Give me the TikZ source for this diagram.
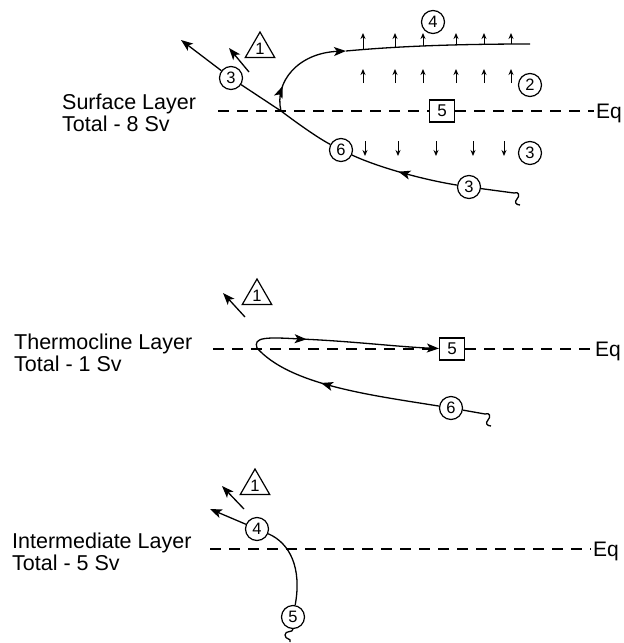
\documentclass[tikz,border=0pt]{standalone}
\usepackage{fontspec}
\setmainfont{Liberation Sans}
\usetikzlibrary{shapes.geometric,arrows.meta,decorations.markings}

\tikzset{
  flow/.style={line width=1.3pt},
  num/.style={circle,draw,line width=1.2pt,fill=white,inner sep=0pt,minimum size=23pt,font=\fontsize{16.5}{16.5}\selectfont},
  tri/.style={regular polygon,regular polygon sides=3,draw,line width=1.2pt,inner sep=0pt,minimum size=34pt,font=\fontsize{16.5}{16.5}\selectfont},
  sq/.style={rectangle,draw,line width=1.2pt,fill=white,inner sep=0pt,minimum width=25pt,minimum height=22pt,font=\fontsize{17}{17}\selectfont},
  eqline/.style={dash pattern=on 11pt off 8pt,line width=1.8pt},
  eqlabel/.style={anchor=base west,inner sep=2pt,font=\fontsize{21}{22}\selectfont},
  layer/.style={align=left,anchor=north west,inner sep=0pt,font=\fontsize{21.5}{22}\selectfont},
  flux/.style={-{Stealth[length=6pt,width=5pt]},line width=1pt},
  flowarrow/.style={postaction={decorate},decoration={markings,mark=at position #1 with {\arrow{Stealth[length=12pt,width=9pt,inset=3pt]}}}},
  wiggle/.pic={\draw[flow] (0,0) .. controls (5,-2) and (6,3) .. (3,6) .. controls (0,9) and (2,12) .. (6,12);}
}

\begin{document}
\begin{tikzpicture}[x=1pt,y=-1pt,>={Stealth[length=12pt,width=9pt,inset=3pt]}]
  \useasboundingbox (0,0) rectangle (624,643);

  \node[layer] (sLab) at (62,94) {Surface Layer\\Total - 8 Sv};
  \node[tri] (sTri) at (260,49) {1};
  \coordinate (sA1) at (249,72);
  \coordinate (sA2) at (229,48);
  \coordinate (sTip) at (181,40);
  \node[num] (sC3) at (231,78) {3};
  \coordinate (sX) at (281,111);
  \node[num] (sC6) at (341,150) {6};
  \node[num] (sC3b) at (469,187) {3};
  \coordinate (sEnd) at (514,193);
  \coordinate (sBend) at (346,51);
  \coordinate (sTop) at (530,44);
  \node[num] (sC4) at (433,22) {4};
  \node[num] (sC2) at (530,85) {2};
  \node[num] (sC3c) at (530,153) {3};
  \node[sq] (sBox) at (442,111) {5};
  \coordinate (sW) at (218,111);
  \node[eqlabel] (sEq) at (594,118) {Eq};

  \draw[eqline] (sW) -- (sBox.west);
  \draw[eqline] (sBox.east) -- (sBox.east -| sEq.west);
  \draw[flow,->] (sA1) -- (sA2);
  \draw[flow,->] (sC3) -- (sTip);
  \draw[flow] (sC6) .. controls (318,138) and (297,123) .. (sX) -- (sC3);
  \draw[flow,flowarrow=0.55] (sC3b) .. controls (425,180) and (380,168) .. (sC6);
  \draw[flow] (sC3b) -- (sEnd) pic {wiggle};
  \draw[flow,->,flowarrow=0.25] (sX) .. controls (274,82) and (298,53) .. (sBend);
  \draw[flow] (sBend) .. controls (400,46) and (460,44) .. (sTop);
  \foreach \x/\y in {363/49,395/47,423/46,456/45,484/44,511/44}
    \draw[flux] (\x,\y) -- (\x,33);
  \foreach \x in {363,395,423,456,484,511}
    \draw[flux] (\x,83) -- (\x,69);
  \foreach \x in {365,398,436,473,504}
    \draw[flux] (\x,141) -- (\x,156);

  \node[layer] (tLab) at (14,334) {Thermocline Layer\\Total - 1 Sv};
  \node[tri] (tTri) at (257,296) {1};
  \coordinate (tA1) at (245,317);
  \coordinate (tA2) at (223,293);
  \node[sq] (tBox) at (452,349) {5};
  \node[num] (tC6) at (451,408) {6};
  \coordinate (tL) at (257,348);
  \coordinate (tEnd) at (485,414);
  \coordinate (tW) at (213,349);
  \node[eqlabel] (tEq) at (593,356) {Eq};

  \draw[eqline] (tW) -- (tBox.west);
  \draw[eqline] (tBox.east) -- (tBox.east -| tEq.west);
  \draw[flow,->] (tA1) -- (tA2);
  \draw[flow,flowarrow=0.62] (tC6) .. controls (370,395) and (290,385) .. (tL);
  \draw[flow,->,flowarrow=0.3] (tL) .. controls (253,337) and (266,337) .. (300,339)
    .. controls (350,341) and (400,347) .. (tBox);
  \draw[flow] (tC6) -- (tEnd) pic {wiggle};

  \node[layer] (iLab) at (12,533) {Intermediate Layer\\Total - 5 Sv};
  \node[tri] (iTri) at (255,486) {1};
  \coordinate (iA1) at (244,509);
  \coordinate (iA2) at (222,486);
  \node[num] (iC4) at (257,529) {4};
  \coordinate (iTip) at (210,509);
  \node[num] (iC5) at (293,617) {5};
  \coordinate (iW) at (210,549);
  \node[eqlabel] (iEq) at (591,556) {Eq};

  \draw[eqline] (iW) -- (iW -| iEq.west);
  \draw[flow,->] (iA1) -- (iA2);
  \draw[flow,->] (iC4) -- (iTip);
  \draw[flow] (iC4) .. controls (290,543) and (302,568) .. (iC5);
  \draw[flow] (iC5.south) .. controls (293,633) and (285,630) .. (285,635)
    .. controls (285,640) and (292,638) .. (290,642);
\end{tikzpicture}
\end{document}
